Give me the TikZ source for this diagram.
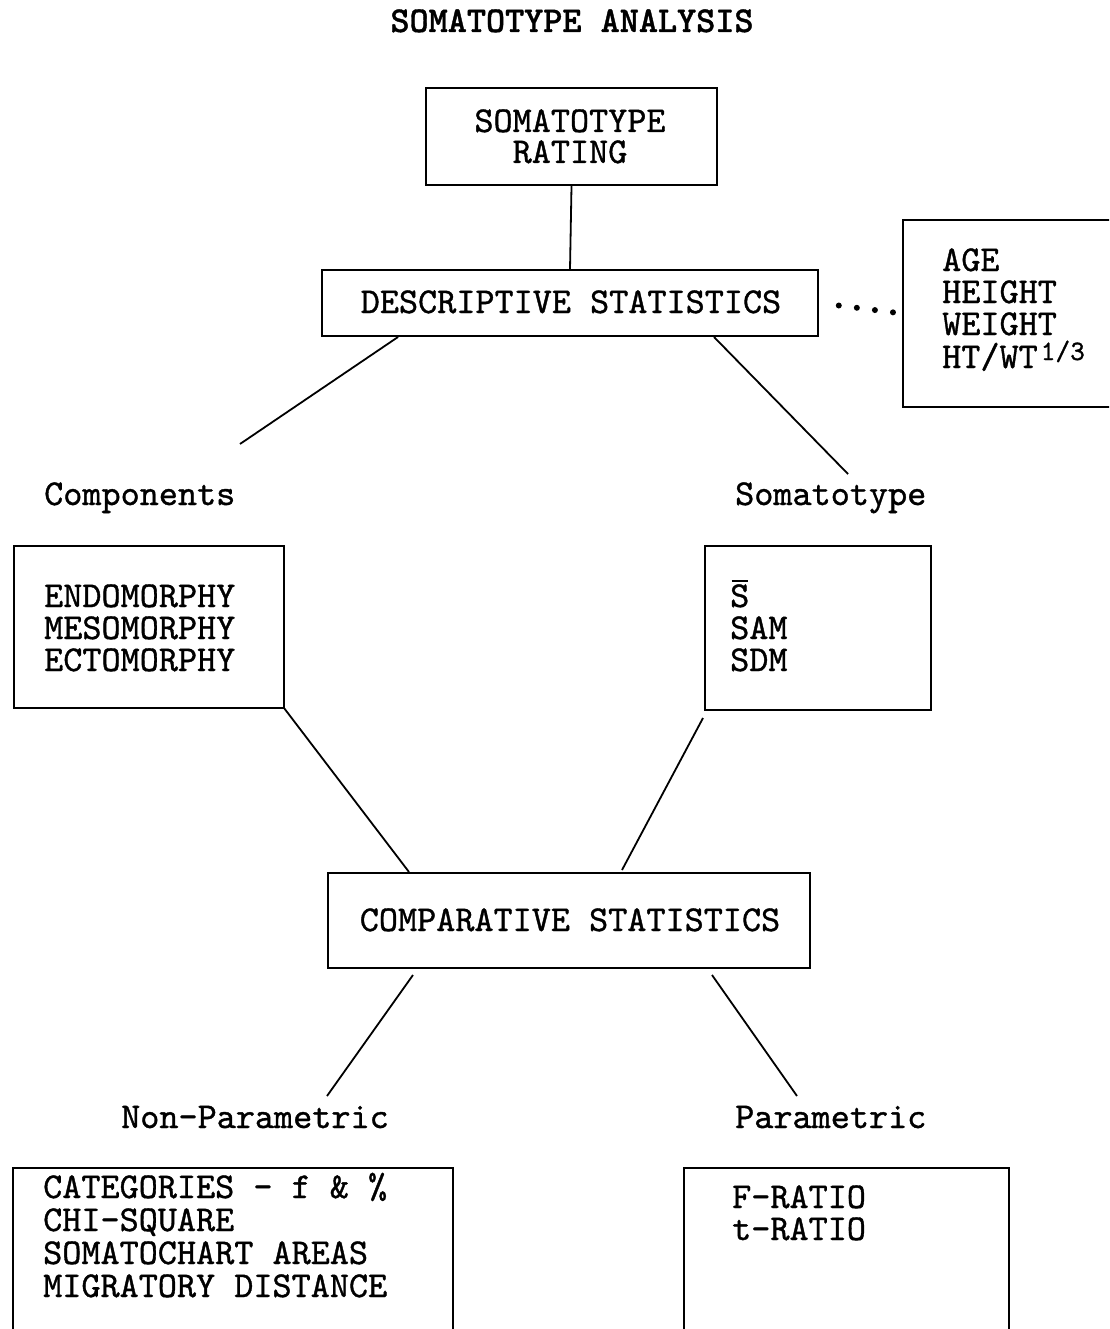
\documentclass[tikz,border=0pt]{standalone}
\usepackage{fontspec}
\newfontfamily\tw{lmmono10-regular.otf}[FakeBold=1]
\newfontfamily\twb{lmmonolt10-bold.otf}[FakeBold=1]
\begin{document}
\begin{tikzpicture}[x=1pt,y=-1pt,
  txt/.style={font=\fontsize{36.4}{32}\selectfont\tw, inner sep=0pt},
  box/.style={draw, line width=1.9pt, inner sep=0pt},
  link/.style={line width=1.8pt},
  dotrow/.style={line width=6pt, line cap=round, dash pattern=on 0pt off 18.2pt}]
\path[use as bounding box] (0,0) rectangle (1109,1329);
\clip (0,0) rectangle (1109,1329);

% title
\node[txt, font=\fontsize{36.4}{32}\selectfont\twb, anchor=base] (title) at (572,32) {SOMATOTYPE ANALYSIS};

% boxes
\node[box, minimum width=291, minimum height=97] (rating) at (571.5,136.5) {};
\node[box, minimum width=496, minimum height=66] (desc) at (570,303) {};
\node[box, minimum width=237, minimum height=187] (age) at (1021.5,313.5) {};
\node[box, minimum width=270, minimum height=162] (comps) at (149,627) {};
\node[box, minimum width=226, minimum height=164] (soma) at (818,628) {};
\node[box, minimum width=482, minimum height=95] (comp) at (569,920.5) {};
\node[box, minimum width=440, minimum height=192] (nonpar) at (233,1264) {};
\node[box, minimum width=325, minimum height=192] (par) at (846.5,1264) {};

% box texts (multi-line nodes are placed by the baseline of their last line)
\node[txt, align=center, anchor=base, font=\fontsize{36.4}{31}\selectfont\tw] (trating) at (570,163) {SOMATOTYPE\\RATING};
\node[txt, anchor=base] (tdesc) at (571,313) {DESCRIPTIVE STATISTICS};
\node[txt, align=left, anchor=base west] (tage) at (942,368) {AGE\\HEIGHT\\WEIGHT\\[1pt]HT/WT\hspace{3pt}\raisebox{8pt}{\fontsize{28}{28}\selectfont 1/3}};

\node[txt, anchor=base west] (lc) at (44,505) {Components};
\node[txt, anchor=base west] (ls) at (735,505) {Somatotype};

\node[txt, align=left, anchor=base west] (tcomps) at (44,671) {ENDOMORPHY\\MESOMORPHY\\ECTOMORPHY};
\node[txt, align=left, anchor=base west] (tsoma) at (730,671) {\makebox[0pt][l]{\hspace{1.5pt}\rule[25pt]{16pt}{1.8pt}}S\\SAM\\SDM};

\node[txt, anchor=base] (tcomp) at (570,931) {COMPARATIVE STATISTICS};

\node[txt, anchor=base west] (ln) at (121,1128) {Non-Parametric};
\node[txt, anchor=base west] (lp) at (735,1128) {Parametric};

\node[txt, align=left, anchor=base west, font=\fontsize{36.4}{33}\selectfont\tw] (tnonpar) at (43,1297) {CATEGORIES - f \& \%\\CHI-SQUARE\\SOMATOCHART AREAS\\MIGRATORY DISTANCE};
\node[txt, align=left, anchor=base west] (tpar) at (732,1240) {F-RATIO\\t-RATIO};

% connector ends
\coordinate (dL) at (398,337);
\coordinate (dR) at (714,337);
\coordinate (eC) at (240,444);
\coordinate (eS) at (848,474);
\coordinate (cL) at (284,708);
\coordinate (sL) at (703,718);
\coordinate (mL) at (409,872);
\coordinate (mR) at (622,870);
\coordinate (bL) at (413,975);
\coordinate (bR) at (712,975);
\coordinate (eN) at (327,1096);
\coordinate (eP) at (797,1096);

% connectors
\draw[link] (rating.south) -- (desc.north);
\draw[link] (dL) -- (eC);
\draw[link] (dR) -- (eS);
\draw[link] (cL) -- (mL);
\draw[link] (sL) -- (mR);
\draw[link] (bL) -- (eN);
\draw[link] (bR) -- (eP);
\draw[dotrow, shorten <=20pt, shorten >=8pt] (desc.east) -- (age.west);
\end{tikzpicture}
\end{document}
